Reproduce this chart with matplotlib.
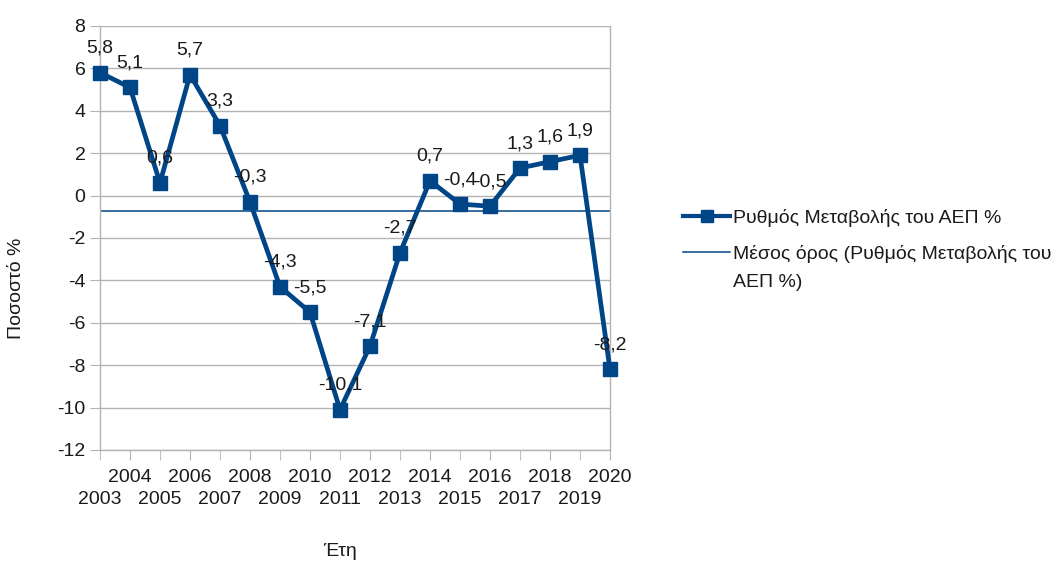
import matplotlib
matplotlib.use("Agg")
import matplotlib.pyplot as plt
from matplotlib.lines import Line2D
import numpy as np

years = [2003, 2004, 2005, 2006, 2007, 2008, 2009, 2010, 2011,
         2012, 2013, 2014, 2015, 2016, 2017, 2018, 2019, 2020]
gdp_change = [5.8, 5.1, 0.6, 5.7, 3.3, -0.3, -4.3, -5.5, -10.1,
              -7.1, -2.7, 0.7, -0.4, -0.5, 1.3, 1.6, 1.9, -8.2]
y_ticks = [8, 6, 4, 2, 0, -2, -4, -6, -8, -10, -12]

series_label = "Ρυθμός Μεταβολής του ΑΕΠ %"
mean_label_lines = ["Μέσος όρος (Ρυθμός Μεταβολής του", "ΑΕΠ %)"]
x_title = "Έτη"
y_title = "Ποσοστό %"

plt.rcParams['font.family'] = ['Liberation Sans', 'DejaVu Sans']
FS = 14
BLUE = "#004586"
GRID = "#b3b3b3"
TXT = "#1a1a1a"

W, H = 1060, 563
fig = plt.figure(figsize=(W / 100, H / 100), dpi=100)
ax = fig.add_axes([100 / W, 1 - 450 / H, 510 / W, 424 / H])

ax.plot(years, gdp_change, color=BLUE, lw=3.4, marker='s', ms=10.5,
        zorder=3, clip_on=False)
mean_val = float(np.mean(gdp_change))
ax.axhline(mean_val, color=BLUE, lw=1.1, zorder=2)

for x, v in zip(years, gdp_change):
    ax.annotate(f"{v:.1f}".replace(".", ","), (x, v), xytext=(0, 11.5),
                textcoords='offset points', ha='center', va='bottom',
                fontsize=FS, color=TXT, zorder=4)

ax.set_xlim(2003, 2020)
ax.set_ylim(-12, 8)
ax.set_yticks(y_ticks)
ax.set_yticklabels([str(t) if t >= 0 else "-" + str(-t) for t in y_ticks])
ax.yaxis.grid(True, color=GRID, lw=1)
ax.set_axisbelow(True)

even = [y for y in years if y % 2 == 0]
odd = [y for y in years if y % 2 == 1]
ax.set_xticks(even)
ax.set_xticklabels([str(y) for y in even])
ax.set_xticks(odd, minor=True)
ax.set_xticklabels([str(y) for y in odd], minor=True)
ax.tick_params(axis='x', which='major', length=7, color=GRID, pad=6.5,
               labelsize=FS, labelcolor=TXT)
ax.tick_params(axis='x', which='minor', length=7, color=GRID, pad=22.5,
               labelsize=FS, labelcolor=TXT)
ax.tick_params(axis='y', length=7, color=GRID, pad=3.5, labelsize=FS,
               labelcolor=TXT)

for s in ['left', 'bottom', 'right']:
    ax.spines[s].set_color(GRID)
    ax.spines[s].set_linewidth(1)
ax.spines['top'].set_visible(False)

fig.text(17 / W, 1 - 288 / H, y_title, rotation=90, ha='center', va='center',
         fontsize=FS, color=TXT)
fig.text(340 / W, 1 - 551 / H, x_title, ha='center', va='center',
         fontsize=FS, color=TXT)

# legend
fig.add_artist(Line2D([683 / W, 730 / W], [1 - 216 / H] * 2, color=BLUE, lw=3,
                      transform=fig.transFigure))
fig.add_artist(Line2D([706.5 / W], [1 - 216 / H], color=BLUE, marker='s', ms=8,
                      lw=0, transform=fig.transFigure))
fig.add_artist(Line2D([683 / W, 730 / W], [1 - 252 / H] * 2, color=BLUE, lw=1.1,
                      transform=fig.transFigure))
fig.text(733 / W, 1 - 216 / H, series_label, ha='left', va='center_baseline',
         fontsize=FS, color=TXT)
fig.text(733 / W, 1 - 252 / H, mean_label_lines[0], ha='left',
         va='center_baseline', fontsize=FS, color=TXT)
fig.text(733 / W, 1 - 280 / H, mean_label_lines[1], ha='left',
         va='center_baseline', fontsize=FS, color=TXT)

fig.savefig("out.png", dpi=100)
